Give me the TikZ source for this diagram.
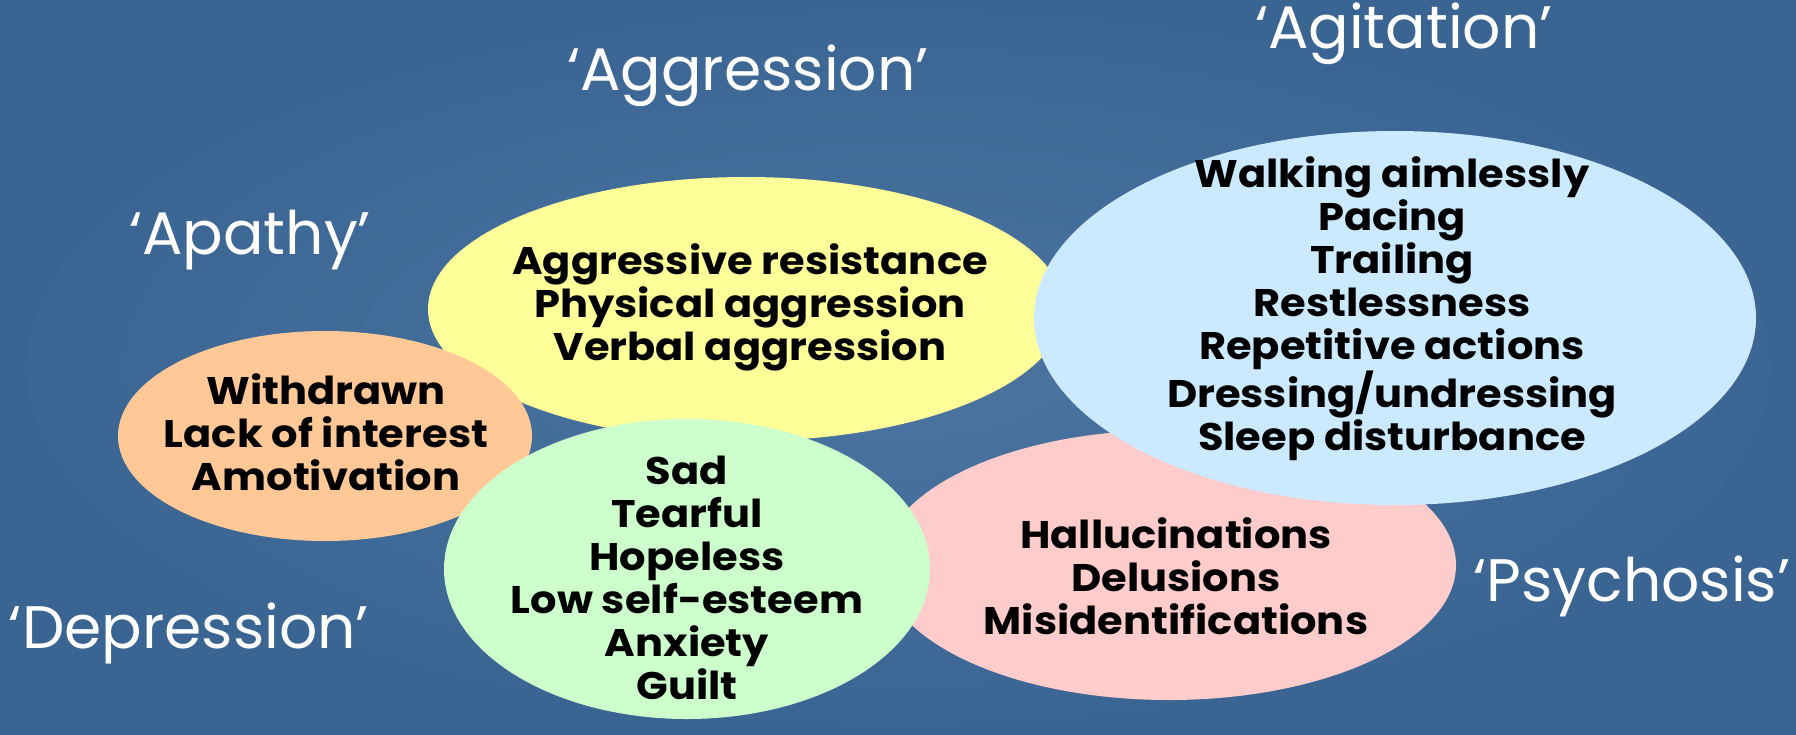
\documentclass[tikz,border=0pt]{standalone}
\usepackage{fontspec}
\setmainfont{Poppins}
\newfontfamily\bodyfont{Poppins}[FakeStretch=1.08]
\usetikzlibrary{shapes.geometric}
\definecolor{bgmid}{RGB}{76,118,160}
\definecolor{bgedge}{RGB}{58,100,146}
\definecolor{corange}{RGB}{255,200,150}
\definecolor{cyellow}{RGB}{255,255,153}
\definecolor{cblue}{RGB}{204,234,255}
\definecolor{cpink}{RGB}{255,204,204}
\definecolor{cgreen}{RGB}{204,255,204}
\tikzset{
  bodytext/.style={align=center, font=\bodyfont\bfseries\fontsize{38.5}{43}\selectfont, text=black},
  labeltext/.style={font=\fontsize{60}{70}\selectfont, text=white}
}
\begin{document}
\begin{tikzpicture}[x=1pt,y=-1pt]
\useasboundingbox (0,0) rectangle (1796,734);
\shade[inner color=bgmid, outer color=bgedge] (0,0) rectangle (1796,734);
% ellipses
\fill[cyellow] (746,309) ellipse [x radius=318, y radius=132];
\fill[corange] (325,436) ellipse [x radius=207, y radius=105];
\fill[cpink] (1169,565) ellipse [x radius=287, y radius=135];
\fill[cblue] (1395,318) ellipse [x radius=361, y radius=187];
\fill[cgreen] (687,569) ellipse [x radius=243, y radius=150];
% body texts
\node[bodytext] (apa) at (326,432) {Withdrawn\\Lack of interest\\Amotivation};
\node[bodytext] (agg) at (750,307) {Aggressive resistance\\Physical aggression\\Verbal aggression};
\node[bodytext] (agi) at (1392,309) {Walking aimlessly\\Pacing\\Trailing\\Restlessness\\Repetitive actions\\Dressing/undressing\\Sleep disturbance};
\node[bodytext] (psy) at (1176,576) {Hallucinations\\Delusions\\Misidentifications};
\node[bodytext] (dep) at (687,578) {Sad\\Tearful\\Hopeless\\Low self-esteem\\Anxiety\\Guilt};
% labels
\node[labeltext] (lagi) at (1404,34) {‘Agitation’};
\node[labeltext] (lagg) at (748,76) {‘Aggression’};
\node[labeltext] (lapa) at (250,240) {‘Apathy’};
\node[labeltext] (ldep) at (189,633) {‘Depression’};
\node[labeltext] (lpsy) at (1632,586) {‘Psychosis’};
\end{tikzpicture}
\end{document}
